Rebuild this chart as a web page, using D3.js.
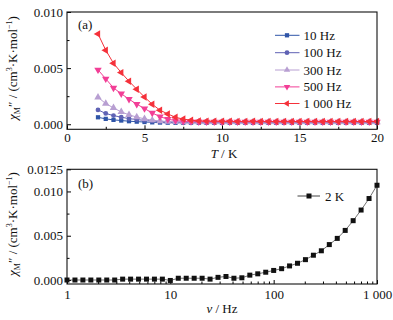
<!DOCTYPE html>
<html><head><meta charset="utf-8">
<script src="https://cdn.jsdelivr.net/npm/d3@7"></script>
<style>
body{margin:0;background:#fff;}
svg text{font-family:"Liberation Serif","Times New Roman",serif;}
</style></head>
<body><svg id="c" width="393" height="320"></svg>
<script>
// ---------- data (panel a) ----------
const temps = [2,2.5,3,3.5,4,4.5,5,5.5,6,6.5,7,7.5,8,8.5,9,9.5,10,10.5,11,11.5,12,12.5,13,13.5,14,14.5,15,15.5,16,16.5,17,17.5,18,18.5,19,19.5,20];
const seriesNames = ["10 Hz","100 Hz","300 Hz","500 Hz","1 000 Hz"];
const seriesColors = ["#2f55a8","#5f62b4","#b89fd2","#f23e96","#f5313a"];
const seriesSymbols = ["square","circle","triUp","triDown","triLeft"];
const chi10 = [0.62,0.48,0.39,0.33,0.27,0.23,0.20,0.17,0.15,0.14,0.13,0.13,0.13,0.12,0.12,0.12,0.12,0.12,0.12,0.12,0.12,0.12,0.12,0.12,0.12,0.12,0.12,0.12,0.12,0.12,0.12,0.12,0.12,0.12,0.12,0.12,0.12];
const chi100 = [1.28,0.96,0.77,0.63,0.50,0.42,0.34,0.28,0.24,0.21,0.19,0.18,0.17,0.17,0.17,0.16,0.16,0.16,0.16,0.16,0.16,0.16,0.16,0.16,0.16,0.16,0.16,0.16,0.16,0.16,0.16,0.16,0.16,0.16,0.16,0.16,0.16];
const chi300 = [2.40,1.84,1.46,1.10,0.84,0.64,0.48,0.36,0.29,0.24,0.21,0.20,0.19,0.19,0.19,0.19,0.19,0.19,0.19,0.19,0.19,0.19,0.19,0.19,0.19,0.19,0.19,0.19,0.19,0.19,0.19,0.19,0.19,0.19,0.19,0.19,0.19];
const chi500 = [4.85,4.05,3.24,2.72,2.23,1.79,1.40,1.00,0.68,0.45,0.33,0.27,0.24,0.23,0.22,0.22,0.22,0.22,0.22,0.22,0.22,0.22,0.22,0.22,0.22,0.22,0.22,0.22,0.22,0.22,0.22,0.22,0.22,0.22,0.22,0.22,0.22];
const chi1000 = [8.05,6.60,5.43,4.60,3.83,3.12,2.42,1.78,1.25,0.92,0.62,0.46,0.36,0.30,0.28,0.27,0.26,0.26,0.25,0.25,0.26,0.25,0.25,0.24,0.25,0.25,0.24,0.25,0.24,0.24,0.25,0.24,0.24,0.25,0.24,0.24,0.25];
const seriesA = [chi10, chi100, chi300, chi500, chi1000]; // units 1e-3
const xTicksA = [0,5,10,15,20];
const xMinorA = [2.5,7.5,12.5,17.5];
const yTicksA = [0,0.005,0.010];
const yMinorA = [0.0025,0.0075];

// ---------- data (panel b) ----------
const freqs = [1,1.194,1.425,1.701,2.031,2.424,2.894,3.455,4.125,4.924,5.878,7.017,8.377,10,11.94,14.25,17.01,20.31,24.24,28.94,34.55,41.25,49.24,58.78,70.17,83.77,100,119.4,142.5,170.1,203.1,242.4,289.4,345.5,412.5,492.4,587.8,701.7,837.7,1000];
const chi2K = [0.00,0.00,0.00,0.00,0.00,0.00,0.00,0.10,0.10,0.10,0.10,0.10,0.10,-0.05,0.20,0.20,0.20,0.20,0.10,0.30,0.40,0.20,0.25,0.55,0.70,0.88,1.08,1.28,1.59,1.89,2.30,2.80,3.30,4.00,4.70,5.60,6.70,7.90,9.20,10.70];
const xTicksB = [1,10,100,1000];
const xTickLabelsB = ["1","10","100","1 000"];
const yTicksB = [0,0.005,0.010,0.0125];
const yTickLabelsB = ["0.000","0.005","0.010","0.0125"];
const yMinorB = [0.0025,0.0075];

const svg = d3.select("#c");
const FS = 13;

function symPath(kind, size){
  const m = {square:d3.symbolSquare, circle:d3.symbolCircle, triUp:d3.symbolTriangle, triDown:d3.symbolTriangle, triLeft:d3.symbolTriangle};
  return d3.symbol().type(m[kind]).size(size)();
}
function symRot(kind){ return kind==="triDown"?180:(kind==="triLeft"?-90:0); }

function yLabel(g, cx, cy){
  const t = g.append("text").attr("transform",`translate(${cx},${cy}) rotate(-90)`)
    .attr("text-anchor","middle").attr("font-size",FS).attr("fill","#111");
  t.append("tspan").attr("font-style","italic").text("χ");
  t.append("tspan").attr("font-size",8).attr("dy",3).text("M");
  t.append("tspan").attr("dy",-3).text("″ / (cm");
  t.append("tspan").attr("font-size",8).attr("dy",-5).text("3");
  t.append("tspan").attr("dy",5).text("·K·mol");
  t.append("tspan").attr("font-size",8).attr("dy",-5).text("−1");
  t.append("tspan").attr("dy",5).text(")");
}

// ================= Panel a =================
const L=67, R=377;
const xA = d3.scaleLinear().domain([0,20]).range([L,R]);
const yA = d3.scaleLinear().domain([-0.00045,0.010]).range([129.3,12]);
const gA = svg.append("g");

gA.append("g").attr("transform",`translate(0,${yA.range()[0]})`)
  .call(d3.axisBottom(xA).tickValues(xTicksA).tickSize(-4).tickPadding(3).tickFormat(d3.format("d")))
  .call(g=>{g.select(".domain").remove(); g.selectAll("text").attr("font-size",FS).attr("fill","#111").attr("font-family","Liberation Serif");});
gA.append("g").attr("transform",`translate(0,${yA.range()[0]})`)
  .call(d3.axisBottom(xA).tickValues(xMinorA).tickSize(-2.5).tickFormat(""))
  .call(g=>g.select(".domain").remove());
gA.append("g").attr("transform",`translate(${L},0)`)
  .call(d3.axisLeft(yA).tickValues(yTicksA).tickSize(-4).tickPadding(4).tickFormat(d3.format(".3f")))
  .call(g=>{g.select(".domain").remove(); g.selectAll("text").attr("font-size",FS).attr("fill","#111").attr("font-family","Liberation Serif");});
gA.append("g").attr("transform",`translate(${L},0)`)
  .call(d3.axisLeft(yA).tickValues(yMinorA).tickSize(-2.5).tickFormat(""))
  .call(g=>g.select(".domain").remove());

seriesA.forEach((vals,i)=>{
  const pts = temps.map((t,j)=>[t, vals[j]*1e-3]);
  gA.append("path").datum(pts).attr("fill","none").attr("stroke",seriesColors[i]).attr("stroke-width",1)
    .attr("d", d3.line().x(d=>xA(d[0])).y(d=>yA(d[1])));
  gA.selectAll(null).data(pts).enter().append("path")
    .attr("d", symPath(seriesSymbols[i], seriesSymbols[i]==="circle"?18:(seriesSymbols[i]==="square"?18:24)))
    .attr("transform", d=>`translate(${xA(d[0])},${yA(d[1])}) rotate(${symRot(seriesSymbols[i])})`)
    .attr("fill", seriesColors[i]);
});
gA.append("rect").attr("x",L).attr("y",12).attr("width",R-L).attr("height",129.3-12)
  .attr("fill","none").attr("stroke","#111").attr("stroke-width",1.1);
gA.append("text").attr("x",78).attr("y",28.5).attr("font-size",FS).attr("fill","#111").text("(a)");

// legend a
const legY = [35.3,52.7,70,86.9,103.5];
seriesNames.forEach((n,i)=>{
  const g = gA.append("g");
  g.append("line").attr("x1",275).attr("x2",299.5).attr("y1",legY[i]).attr("y2",legY[i]).attr("stroke",seriesColors[i]).attr("stroke-width",1);
  g.append("path").attr("d",symPath(seriesSymbols[i], 18))
    .attr("transform",`translate(287,${legY[i]}) rotate(${symRot(seriesSymbols[i])})`).attr("fill",seriesColors[i]);
  g.append("text").attr("x",303.5).attr("y",legY[i]+4.5).attr("font-size",FS).attr("fill","#111").text(n);
});

const xl = gA.append("text").attr("x",224).attr("y",157.5).attr("text-anchor","middle").attr("font-size",FS).attr("fill","#111");
xl.append("tspan").attr("font-style","italic").text("T");
xl.append("tspan").text(" / K");
yLabel(gA, 17, 68);

// ================= Panel b =================
const xB = d3.scaleLog().domain([1,1000]).range([L,R]);
const yB = d3.scaleLinear().domain([-0.00045,0.0125]).range([284,169.3]);
const gB = svg.append("g");
const minorB = [];
[1,10,100].forEach(d=>{for(let k=2;k<=9;k++) minorB.push(d*k);});

gB.append("g").attr("transform",`translate(0,284)`)
  .call(d3.axisBottom(xB).tickValues(xTicksB).tickSize(-4).tickPadding(6).tickFormat((d,i)=>xTickLabelsB[i]))
  .call(g=>{g.select(".domain").remove(); g.selectAll("text").attr("font-size",FS).attr("fill","#111").attr("font-family","Liberation Serif");});
gB.append("g").attr("transform",`translate(0,284)`)
  .call(d3.axisBottom(xB).tickValues(minorB).tickSize(-2.5).tickFormat(""))
  .call(g=>g.select(".domain").remove());
gB.append("g").attr("transform",`translate(${L},0)`)
  .call(d3.axisLeft(yB).tickValues(yTicksB).tickSize(-4).tickPadding(4).tickFormat((d,i)=>yTickLabelsB[i]))
  .call(g=>{g.select(".domain").remove(); g.selectAll("text").attr("font-size",FS).attr("fill","#111").attr("font-family","Liberation Serif");});
gB.append("g").attr("transform",`translate(${L},0)`)
  .call(d3.axisLeft(yB).tickValues(yMinorB).tickSize(-2.5).tickFormat(""))
  .call(g=>g.select(".domain").remove());

const ptsB = freqs.map((f,j)=>[f, chi2K[j]*1e-3]);
gB.append("path").datum(ptsB).attr("fill","none").attr("stroke","#333").attr("stroke-width",0.7)
  .attr("d", d3.line().x(d=>xB(d[0])).y(d=>yB(d[1])));
gB.selectAll(null).data(ptsB).enter().append("path")
  .attr("d", symPath("square", 25))
  .attr("transform", d=>`translate(${xB(d[0])},${yB(d[1])})`).attr("fill","#111");
gB.append("rect").attr("x",L).attr("y",169.3).attr("width",R-L).attr("height",284-169.3)
  .attr("fill","none").attr("stroke","#111").attr("stroke-width",1.1);
gB.append("text").attr("x",78).attr("y",187.5).attr("font-size",FS).attr("fill","#111").text("(b)");

// legend b
gB.append("line").attr("x1",297.5).attr("x2",320).attr("y1",196).attr("y2",196).attr("stroke","#111").attr("stroke-width",0.8);
gB.append("path").attr("d",symPath("square",25)).attr("transform","translate(309,196)").attr("fill","#111");
gB.append("text").attr("x",325).attr("y",200.5).attr("font-size",FS).attr("fill","#111").text("2 K");

const xlb = gB.append("text").attr("x",222).attr("y",313).attr("text-anchor","middle").attr("font-size",FS).attr("fill","#111");
xlb.append("tspan").attr("font-style","italic").text("ν");
xlb.append("tspan").text(" / Hz");
yLabel(gB, 17, 224);
</script></body></html>
